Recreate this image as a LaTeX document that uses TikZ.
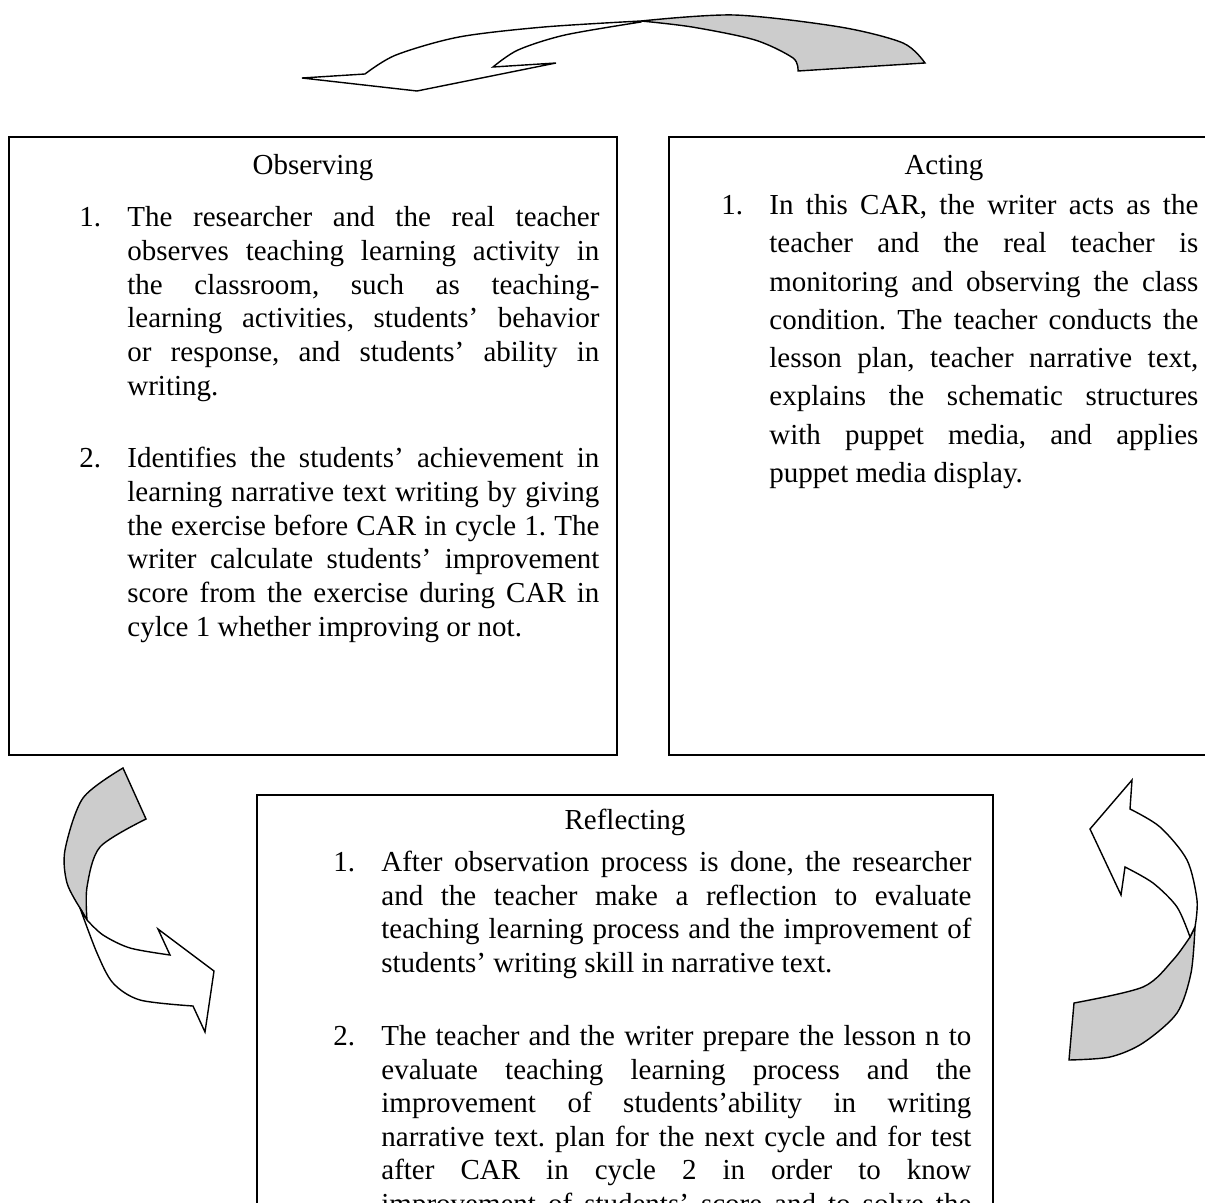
\documentclass[tikz,border=0pt]{standalone}
\usepackage{fontspec}
\setmainfont{Liberation Serif}
\usetikzlibrary{positioning}
\frenchspacing

\newlength{\numind}
\setlength{\numind}{24pt}
% numbered paragraph with hanging text
\newcommand{\cyclitem}[2]{\noindent\hangindent=\numind\hangafter=1\makebox[\numind][l]{#1.}#2\par}

\begin{document}
\begin{tikzpicture}[x=0.5pt,y=-0.5pt,
   panel/.style={line width=1pt},
   backband/.style={draw=black,line width=0.7pt,fill=black!20,line join=miter},
   frontband/.style={draw=black,line width=0.7pt,fill=white,line join=miter},
   heading/.style={font=\fontsize{14.5}{17}\selectfont,inner sep=0pt,anchor=base},
   itemtext/.style={font=\fontsize{14.5}{#1}\selectfont,inner sep=0pt,anchor=base west,align=justify}]
  \useasboundingbox (0,0) rectangle (1205,1203);
  \clip (0,0) rectangle (1205,1203);

  % top arrow
  \filldraw[backband] plot[smooth] coordinates {(641,21) (734,15) (840,27) (903,43) (925,63)}
     -- (798,71) -- plot[smooth] coordinates {(798,71) (793,58) (755,40) (692,27) (641,21)} -- cycle;
  \filldraw[frontband] plot[smooth] coordinates {(641,21) (544,27) (459,37) (396,55) (365,74)}
     -- (302,78) -- (417,91) -- (556,63) -- (493,67)
     -- plot[smooth] coordinates {(493,67) (518,50) (565,35) (641,22)} -- cycle;

  % left arrow
  \filldraw[backband] plot[smooth] coordinates {(123,768) (83,798) (65,850) (67,883) (80,908)}
     -- (87,920) -- plot[smooth] coordinates {(87,920) (87,887) (100,847) (146,819)} -- cycle;
  \filldraw[frontband] plot[smooth] coordinates {(80,908) (97,953) (113,983) (140,1000) (193,1006)}
     -- (205,1032) -- (214,971) -- (158,929) -- (170,955)
     -- plot[smooth] coordinates {(170,955) (130,948) (103,935) (87,920)} -- cycle;

  % right arrow
  \filldraw[backband] (1069,1060) -- (1074,1003)
     -- plot[smooth] coordinates {(1074,1003) (1143,987) (1173,960) (1190,937)} -- (1195,927)
     -- plot[smooth] coordinates {(1195,927) (1191,973) (1177,1013) (1143,1043) (1110,1057) (1069,1060)} -- cycle;
  \filldraw[frontband] plot[smooth] coordinates {(1195,927) (1197,900) (1187,860) (1160,827) (1130,809)}
     -- (1132,780) -- (1090,829) -- (1121,895) -- (1125,867)
     -- plot[smooth] coordinates {(1125,867) (1153,883) (1177,907) (1190,937)} -- cycle;

  % boxes
  \draw[panel] (9,137) rectangle (617,755);
  \draw[panel] (669,137) rectangle (1219,755);
  \draw[panel] (257,795) rectangle (993,1230);

  % Observing
  \node[heading] (obshead) at (313,174.5) {Observing};
  \node[itemtext=16.9pt,text width=260pt] (obs1) at (79,226.5) {\cyclitem{1}{The researcher and the real teacher\linebreak
    observes teaching learning activity in\linebreak the classroom, such as teaching-\linebreak
    learning activities, students’ behavior\linebreak or response, and students’ ability in\linebreak writing.}};
  \node[itemtext=16.9pt,text width=260pt] (obs2) at (79,467.5) {\cyclitem{2}{Identifies the students’ achievement in\linebreak
    learning narrative text writing by giving\linebreak the exercise before CAR in cycle 1. The\linebreak
    writer calculate students’ improvement\linebreak score from the exercise during CAR in\linebreak
    cylce 1 whether improving or not.}};

  % Acting
  \node[heading] (acthead) at (944,174.5) {Acting};
  \node[itemtext=19.15pt,text width=238.5pt] (act1) at (721,214.5) {\cyclitem{1}{In this CAR, the writer acts as the\linebreak
    teacher and the real teacher is\linebreak monitoring and observing the class\linebreak
    condition. The teacher conducts the\linebreak lesson plan, teacher narrative text,\linebreak
    explains the schematic structures\linebreak with puppet media, and applies\linebreak puppet media display.}};

  % Reflecting
  \node[heading] (refhead) at (625,829.5) {Reflecting};
  \node[itemtext=16.75pt,text width=319pt] (ref1) at (333,871.5) {\cyclitem{1}{After observation process is done, the researcher\linebreak
    and the teacher make a reflection to evaluate\linebreak teaching learning process and the improvement of\linebreak
    students’ writing skill in narrative text.}};
  \node[itemtext=16.75pt,text width=319pt] (ref2) at (333,1045.5) {\parfillskip=0pt
    \cyclitem{2}{The teacher and the writer prepare the lesson n to\linebreak
    evaluate teaching learning process and the\linebreak improvement of students’ability in writing\linebreak
    narrative text. plan for the next cycle and for test\linebreak after CAR in cycle 2 in order to know\linebreak
    improvement of students’ score and to solve the}};
\end{tikzpicture}
\end{document}
